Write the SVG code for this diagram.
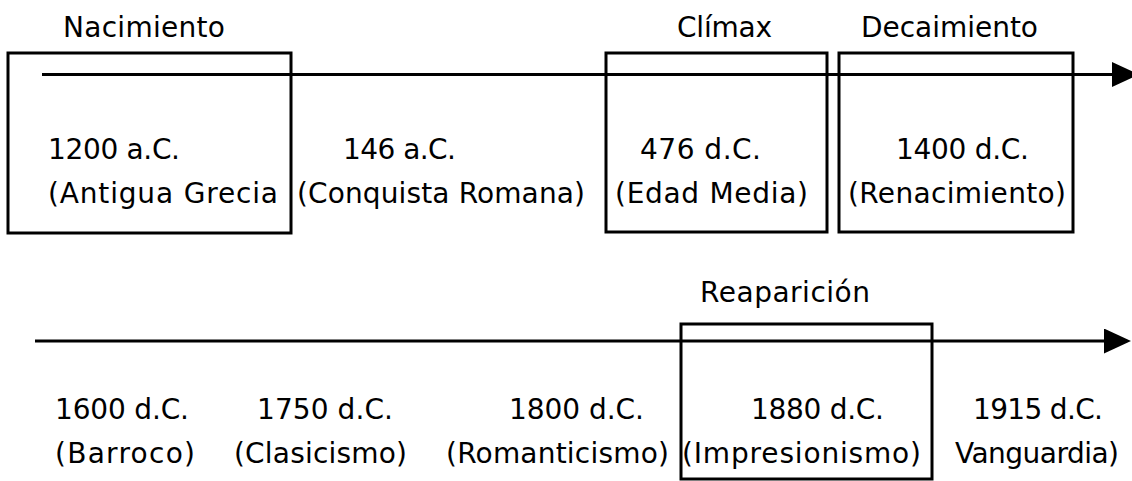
<svg xmlns="http://www.w3.org/2000/svg" width="1132" height="481" viewBox="0 0 1132 481">
<style>
text{font-family:"DejaVu Sans","Liberation Sans",sans-serif;font-size:28px;fill:#000}
.box{fill:none;stroke:#000;stroke-width:3}
.axis{stroke:#000;stroke-width:3;fill:none}
</style>
<defs>
<marker id="ah" markerUnits="userSpaceOnUse" markerWidth="28" markerHeight="26" refX="0" refY="12.5" orient="auto">
<path d="M0,0 L27,12.5 L0,25 Z" fill="#000"/>
</marker>
</defs>
<rect width="1132" height="481" fill="#fff"/>
<g id="connectors">
<line class="axis" x1="42" y1="74.5" x2="1112" y2="74.5" marker-end="url(#ah)"/>
<line class="axis" x1="35" y1="341" x2="1104" y2="341" marker-end="url(#ah)"/>
</g>
<g id="n1200">
<rect class="box" x="8" y="53" width="283" height="180"/>
<text x="63" y="37" textLength="162">Nacimiento</text>
<text x="48" y="159" textLength="132">1200 a.C.</text>
<text x="48" y="203" textLength="230">(Antigua Grecia</text>
</g>
<g id="n146">
<text x="343" y="159" textLength="113">146 a.C.</text>
<text x="297" y="203" textLength="288">(Conquista Romana)</text>
</g>
<g id="n476">
<rect class="box" x="606" y="53" width="221" height="179"/>
<text x="677" y="37" textLength="95">Clímax</text>
<text x="640" y="159" textLength="121">476 d.C.</text>
<text x="615" y="203" textLength="193">(Edad Media)</text>
</g>
<g id="n1400">
<rect class="box" x="839" y="53" width="234" height="179"/>
<text x="861" y="37" textLength="177">Decaimiento</text>
<text x="896" y="159" textLength="133">1400 d.C.</text>
<text x="848" y="203" textLength="218">(Renacimiento)</text>
</g>
<g id="n1600">
<text x="55" y="419" textLength="134">1600 d.C.</text>
<text x="55" y="463" textLength="140">(Barroco)</text>
</g>
<g id="n1750">
<text x="257" y="419" textLength="136">1750 d.C.</text>
<text x="234" y="463" textLength="173">(Clasicismo)</text>
</g>
<g id="n1800">
<text x="509" y="419" textLength="135">1800 d.C.</text>
<text x="446" y="463" textLength="223">(Romanticismo)</text>
</g>
<g id="n1880">
<rect class="box" x="681" y="324" width="251" height="155"/>
<text x="700" y="302" textLength="170">Reaparición</text>
<text x="751" y="419" textLength="133">1880 d.C.</text>
<text x="682" y="463" textLength="239">(Impresionismo)</text>
</g>
<g id="n1915">
<text x="973" y="419" textLength="130">1915 d.C.</text>
<text x="955" y="463" textLength="164">Vanguardia)</text>
</g>
</svg>
